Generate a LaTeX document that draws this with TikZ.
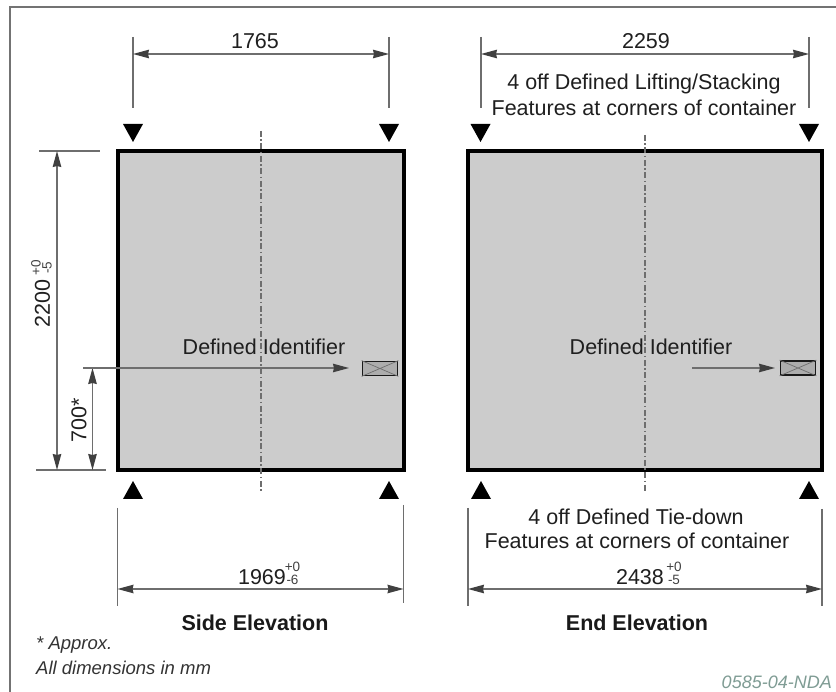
\documentclass[tikz,border=0pt]{standalone}
\usepackage{fontspec}
\setmainfont{Liberation Sans}
\usetikzlibrary{arrows.meta}
\definecolor{dimc}{HTML}{6E6E6E}
\definecolor{tipc}{HTML}{404040}
\definecolor{fillc}{HTML}{CCCCCC}
\definecolor{refc}{HTML}{7F9C94}
\tikzset{
  x=1pt,y=-1pt,
  box/.style={draw=black,fill=fillc,line width=3.7pt,miter limit=10},
  dimline/.style={draw=dimc,line width=1.3pt,{Stealth[length=16pt,width=8.5pt,inset=1pt,color=tipc]}-{Stealth[length=16pt,width=8.5pt,inset=1pt,color=tipc]}},
  leader/.style={draw=dimc,line width=1.3pt,-{Stealth[length=16pt,width=8.5pt,inset=1pt,color=tipc]}},
  ext/.style={draw=dimc,line width=1.3pt},
  centre/.style={draw=dimc,line width=1.2pt,dash pattern=on 6pt off 2.5pt on 1.5pt off 2.5pt},
  tri/.style={fill=black,draw=none},
  lab/.style={inner sep=0pt,text=black!88,font=\fontsize{21.5}{24}\selectfont},
  tol/.style={inner sep=0pt,text=black!75,font=\fontsize{13.5}{14}\selectfont},
  title/.style={inner sep=0pt,text=black!90,font=\fontsize{21.5}{24}\selectfont\bfseries},
  note/.style={inner sep=0pt,anchor=west,text=black!80,font=\fontsize{18.5}{20}\selectfont\itshape},
  idbox/.style={draw=black!90,fill=black!32,line width=1.8pt,minimum width=35pt,minimum height=14pt,inner sep=0pt},
}
\newcommand{\downtri}[2]{\fill[tri] (#1-10,#2) -- (#1+10,#2) -- (#1,#2+18) -- cycle;}
\newcommand{\uptri}[2]{\fill[tri] (#1-10,#2) -- (#1+10,#2) -- (#1,#2-18) -- cycle;}
\begin{document}
\begin{tikzpicture}
\useasboundingbox (0,0) rectangle (836,692);
\fill[white] (0,0) rectangle (836,692);
% frame
\coordinate (fa) at (10,692); \coordinate (fb) at (10,7); \coordinate (fc) at (836,7);
\draw[draw=black!55,line width=1.3pt] (fa) -- (fb) -- (fc);
% containers
\draw[box] (118,151) rectangle (404,470);
\draw[box] (468,151) rectangle (822,470);
% centre lines
\coordinate (c1a) at (261,131); \coordinate (c1b) at (261,492);
\coordinate (c2a) at (645,135); \coordinate (c2b) at (645,492);
\draw[centre] (c1a) -- (c1b);
\draw[centre] (c2a) -- (c2b);
% triangles
\downtri{133}{124} \downtri{389}{124} \downtri{480.5}{124} \downtri{809}{124}
\uptri{133}{499} \uptri{389}{499} \uptri{481}{499} \uptri{809}{499}
% top dims
\coordinate (a1) at (133,37); \coordinate (a2) at (133,108);
\coordinate (a3) at (389,37); \coordinate (a4) at (389,108);
\coordinate (a5) at (133,54); \coordinate (a6) at (389,54);
\draw[ext] (a1) -- (a2); \draw[ext] (a3) -- (a4);
\draw[dimline] (a5) -- (a6);
\node[lab] (t1765) at (255,41) {1765};
\coordinate (b1) at (481,37); \coordinate (b2) at (481,108);
\coordinate (b3) at (809,37); \coordinate (b4) at (809,108);
\coordinate (b5) at (481,54); \coordinate (b6) at (809,54);
\draw[ext] (b1) -- (b2); \draw[ext] (b3) -- (b4);
\draw[dimline] (b5) -- (b6);
\node[lab] (t2259) at (646,41) {2259};
\node[lab] (lift1) at (644,84) {4 off Defined Lifting/Stacking};
\node[lab] (lift2) at (644,108) {Features at corners of container};
% left dims
\coordinate (l1) at (39,151); \coordinate (l2) at (100,151);
\coordinate (l3) at (36,470); \coordinate (l4) at (106,470);
\coordinate (l5) at (57,151); \coordinate (l6) at (57,470);
\draw[ext] (l1) -- (l2); \draw[ext] (l3) -- (l4);
\draw[dimline] (l5) -- (l6);
\node[lab,rotate=90] (t2200) at (42.5,303.5) {2200};
\node[tol,rotate=90] (t2200a) at (36,268) {+0};
\node[tol,rotate=90] (t2200b) at (47,268) {-5};
\coordinate (m1) at (92.5,368); \coordinate (m2) at (92.5,470);
\draw[dimline] (m1) -- (m2);
\node[lab,rotate=90] (t700) at (79,420) {700*};
% identifiers
\node[lab] (id1) at (264,347) {Defined Identifier};
\node[lab] (id2) at (651,347) {Defined Identifier};
\node[idbox] (bx1) at (380,368.5) {};
\node[idbox] (bx2) at (798,368) {};
\draw[draw=dimc,line width=.7pt] (bx1.north west) -- (bx1.south east) (bx1.south west) -- (bx1.north east);
\draw[draw=dimc,line width=.7pt] (bx2.north west) -- (bx2.south east) (bx2.south west) -- (bx2.north east);
\coordinate (p1) at (83,368); \coordinate (p2) at (349,368);
\draw[leader] (p1) -- (p2);
\coordinate (p3) at (692,368); \coordinate (p4) at (775,368);
\draw[leader] (p3) -- (p4);
% bottom dims
\coordinate (d1) at (117.5,508); \coordinate (d2) at (117.5,606);
\coordinate (d3) at (403.5,505); \coordinate (d4) at (403.5,603);
\coordinate (d5) at (117.5,589); \coordinate (d6) at (403.5,589);
\draw[ext] (d1) -- (d2); \draw[ext] (d3) -- (d4);
\draw[dimline] (d5) -- (d6);
\node[lab] (t1969) at (262,577) {1969};
\node[tol] (t1969a) at (292.5,567) {+0};
\node[tol] (t1969b) at (292.5,579.5) {-6};
\coordinate (e1) at (468,508); \coordinate (e2) at (468,606);
\coordinate (e3) at (822,509); \coordinate (e4) at (822,606);
\coordinate (e5) at (468,589); \coordinate (e6) at (822,589);
\draw[ext] (e1) -- (e2); \draw[ext] (e3) -- (e4);
\draw[dimline] (e5) -- (e6);
\node[lab] (t2438) at (640,577) {2438};
\node[tol] (t2438a) at (674,567) {+0};
\node[tol] (t2438b) at (674,579.5) {-5};
\node[lab] (tie1) at (636,517) {4 off Defined Tie-down};
\node[lab] (tie2) at (637,541) {Features at corners of container};
% titles
\node[title] (side) at (255,623) {Side Elevation};
\node[title] (endv) at (637,623) {End Elevation};
\node[note] (n1) at (36,645) {* Approx.};
\node[note] (n2) at (36,668) {All dimensions in mm};
\node[inner sep=0pt,anchor=east,text=refc,font=\fontsize{18}{20}\selectfont\itshape] (ref) at (832,682) {0585-04-NDA};
\end{tikzpicture}
\end{document}
